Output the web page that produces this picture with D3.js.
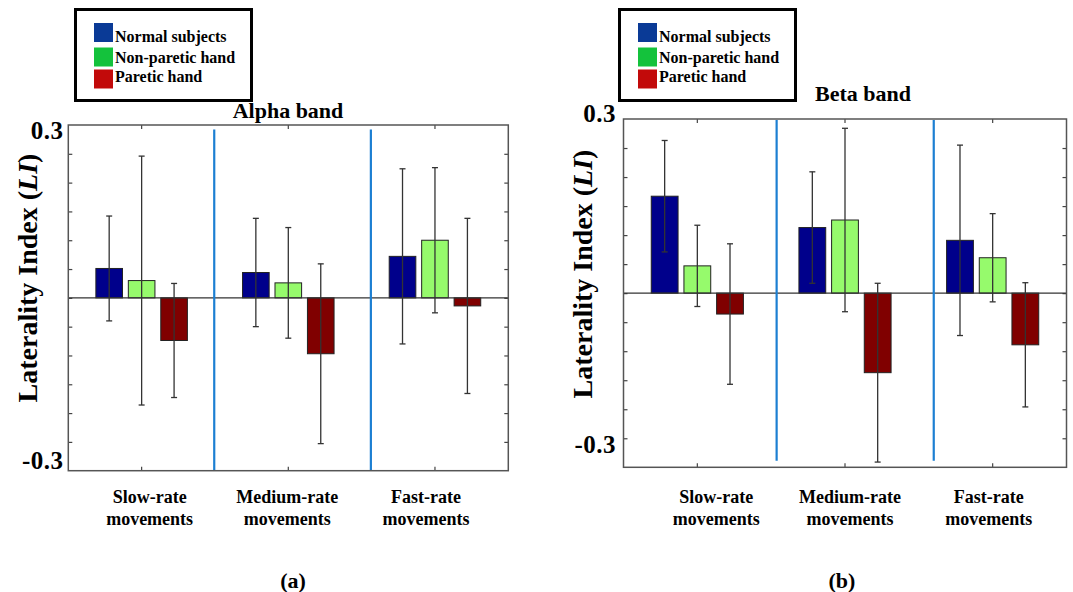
<!DOCTYPE html>
<html>
<head>
<meta charset="utf-8">
<script src="https://cdn.jsdelivr.net/npm/d3@7"></script>
<style>
  body { margin: 0; background: #fff; }
  svg text { font-family: "Liberation Serif", "Times New Roman", serif; font-weight: bold; fill: #000; }
</style>
</head>
<body>
<svg id="chart" width="1073" height="592"></svg>
<script>
// categories and series
const categoryLines = [["Slow-rate", "movements"], ["Medium-rate", "movements"], ["Fast-rate", "movements"]];
const seriesNames = ["Normal subjects", "Non-paretic hand", "Paretic hand"];

// alpha band: means and error bar half-lengths
const alphaNormal = [0.051, 0.044, 0.072];
const alphaNonParetic = [0.030, 0.026, 0.100];
const alphaParetic = [-0.074, -0.097, -0.014];
const alphaNormalErr = [0.091, 0.094, 0.152];
const alphaNonPareticErr = [0.216, 0.096, 0.126];
const alphaPareticErr = [0.099, 0.156, 0.152];

// beta band
const betaNormal = [0.167, 0.113, 0.091];
const betaNonParetic = [0.047, 0.126, 0.061];
const betaParetic = [-0.036, -0.137, -0.089];
const betaNormalErr = [0.096, 0.096, 0.164];
const betaNonPareticErr = [0.070, 0.158, 0.076];
const betaPareticErr = [0.121, 0.154, 0.107];

// axis ticks
const yTickValues = [-0.25, -0.2, -0.15, -0.1, -0.05, 0, 0.05, 0.1, 0.15, 0.2, 0.25];
const yTickLabels = ["0.3", "-0.3"];

const barColors = ["#00008b", "#96fa6c", "#800000"];
const legendColors = ["#0a3a96", "#14c23c", "#c20a0a"];

const svg = d3.select("#chart");

// Draws one panel (bars, error bars, box, labels, legend)
const render = (p) => {
  const y = d3.scaleLinear().domain([-0.3, 0.3]).range([p.y1, p.y0]);
  const x = d3.scaleBand().domain([0, 1, 2]).range([p.x0, p.x1]).padding(0);
  const xIdx = d3.scaleLinear().domain([-0.5, 2.5]).range([p.x0, p.x1]);
  const bw = x.bandwidth();
  const xs = d3.scaleBand().domain([0, 1, 2])
    .range([-0.312 * bw, 0.312 * bw]).paddingInner(0.18).paddingOuter(0);

  const g = svg.append("g");

  // inner ticks on all four sides
  const tickStyle = (sel) => {
    sel.select(".domain").remove();
    sel.selectAll(".tick line").attr("stroke", "#444").attr("stroke-width", 1.2);
    sel.selectAll(".tick text").remove();
  };
  g.append("g").attr("transform", `translate(${p.x0},0)`)
    .call(d3.axisLeft(y).tickValues(yTickValues).tickSize(-4)).call(tickStyle);
  g.append("g").attr("transform", `translate(${p.x1},0)`)
    .call(d3.axisRight(y).tickValues(yTickValues).tickSize(-4)).call(tickStyle);
  g.append("g").attr("transform", `translate(0,${p.y1})`)
    .call(d3.axisBottom(x).tickSize(-4)).call(tickStyle);
  g.append("g").attr("transform", `translate(0,${p.y0})`)
    .call(d3.axisTop(x).tickSize(-4)).call(tickStyle);

  // bars
  const rows = [];
  p.series.forEach((s, si) => {
    s.values.forEach((v, ci) => rows.push({ si, ci, v, e: s.errors[ci] }));
  });

  g.selectAll("rect.bar")
    .data(rows)
    .enter()
    .append("rect")
    .attr("class", "bar")
    .attr("x", (d) => x(d.ci) + bw / 2 + xs(d.si))
    .attr("width", xs.bandwidth())
    .attr("y", (d) => y(Math.max(0, d.v)))
    .attr("height", (d) => Math.abs(y(d.v) - y(0)))
    .attr("fill", (d) => barColors[d.si])
    .attr("stroke", "#222")
    .attr("stroke-width", 1);

  // zero line
  g.append("line")
    .attr("x1", p.x0).attr("x2", p.x1)
    .attr("y1", y(0)).attr("y2", y(0))
    .attr("stroke", "#333").attr("stroke-width", 1.3);

  // error bars
  const ex = (d) => x(d.ci) + bw / 2 + xs(d.si) + xs.bandwidth() / 2;
  const eg = g.selectAll("g.err").data(rows).enter().append("g")
    .attr("stroke", "#333").attr("stroke-width", 1.3);
  eg.append("line")
    .attr("x1", ex).attr("x2", ex)
    .attr("y1", (d) => y(d.v + d.e)).attr("y2", (d) => y(d.v - d.e));
  eg.append("line")
    .attr("x1", (d) => ex(d) - 3).attr("x2", (d) => ex(d) + 3)
    .attr("y1", (d) => y(d.v + d.e)).attr("y2", (d) => y(d.v + d.e));
  eg.append("line")
    .attr("x1", (d) => ex(d) - 3).attr("x2", (d) => ex(d) + 3)
    .attr("y1", (d) => y(d.v - d.e)).attr("y2", (d) => y(d.v - d.e));

  // blue separators
  g.selectAll("line.sep")
    .data(p.separators)
    .enter()
    .append("line")
    .attr("x1", (d) => xIdx(d)).attr("x2", (d) => xIdx(d))
    .attr("y1", p.sepTop).attr("y2", p.sepBottom)
    .attr("stroke", "#1c7fd2").attr("stroke-width", 2.2);

  // box
  g.append("rect")
    .attr("x", p.x0).attr("y", p.y0)
    .attr("width", p.x1 - p.x0).attr("height", p.y1 - p.y0)
    .attr("fill", "none").attr("stroke", "#555").attr("stroke-width", 1.5);

  // tick labels
  g.append("text").attr("x", p.tickLabelX).attr("y", p.topLabelY)
    .attr("text-anchor", "end").attr("dominant-baseline", "central")
    .attr("font-size", 25).attr("letter-spacing", 0.5).text(yTickLabels[0]);
  g.append("text").attr("x", p.tickLabelX).attr("y", p.bottomLabelY)
    .attr("text-anchor", "end").attr("dominant-baseline", "central")
    .attr("font-size", 25).attr("letter-spacing", 0.5).text(yTickLabels[1]);

  // y axis label
  const yl = g.append("text")
    .attr("transform", `translate(${p.yLabelX},${p.yLabelY}) rotate(-90)`)
    .attr("text-anchor", "middle").attr("dominant-baseline", "central")
    .attr("font-size", 28);
  yl.append("tspan").text("Laterality Index (");
  yl.append("tspan").attr("font-style", "italic").text("LI");
  yl.append("tspan").text(")");

  // category labels
  categoryLines.forEach((lines, ci) => {
    const t = g.append("text")
      .attr("text-anchor", "middle")
      .attr("font-size", 18);
    lines.forEach((line, li) => {
      t.append("tspan")
        .attr("x", x(ci) + bw / 2 + p.labelShift[ci])
        .attr("y", 503 + li * 22)
        .text(line);
    });
  });

  // title and panel tag
  g.append("text").attr("x", p.titleX).attr("y", p.titleY)
    .attr("text-anchor", "middle").attr("font-size", 22).text(p.title);
  g.append("text").attr("x", p.tagX).attr("y", 588)
    .attr("text-anchor", "middle").attr("font-size", 22).text(p.tag);

  // legend
  const lg = g.append("g").attr("transform", `translate(${p.legendX},8)`);
  lg.append("rect").attr("x", 1.5).attr("y", 1.5)
    .attr("width", 176).attr("height", 91)
    .attr("fill", "#fff").attr("stroke", "#000").attr("stroke-width", 3);
  const swY = [15, 39.5, 61.5];
  const txY = [33.5, 54.5, 74];
  seriesNames.forEach((name, i) => {
    lg.append("rect").attr("x", p.swatchDx).attr("y", swY[i])
      .attr("width", 19).attr("height", 19).attr("fill", legendColors[i]);
    lg.append("text").attr("x", p.swatchDx + 21).attr("y", txY[i])
      .attr("font-size", 16).text(name);
  });
};

render({
  x0: 68.3, x1: 508.3, y0: 125, y1: 470.7,
  series: [
    { values: alphaNormal, errors: alphaNormalErr },
    { values: alphaNonParetic, errors: alphaNonPareticErr },
    { values: alphaParetic, errors: alphaPareticErr }
  ],
  separators: [0.495, 1.563],
  sepTop: 129.5, sepBottom: 470.7,
  tickLabelX: 63.5, topLabelY: 130, bottomLabelY: 460,
  yLabelX: 27, yLabelY: 278,
  labelShift: [8, -1, -9],
  title: "Alpha band", titleX: 288, titleY: 118,
  tag: "(a)", tagX: 293,
  legendX: 74, swatchDx: 20
});

render({
  x0: 623.5, x1: 1066.5, y0: 119, y1: 467.3,
  series: [
    { values: betaNormal, errors: betaNormalErr },
    { values: betaNonParetic, errors: betaNonPareticErr },
    { values: betaParetic, errors: betaPareticErr }
  ],
  separators: [0.537, 1.601],
  sepTop: 120, sepBottom: 460.7,
  tickLabelX: 616, topLabelY: 113, bottomLabelY: 444,
  yLabelX: 582, yLabelY: 274,
  labelShift: [19, 5, -4],
  title: "Beta band", titleX: 863, titleY: 101,
  tag: "(b)", tagX: 842,
  legendX: 618, swatchDx: 20
});
</script>
</body>
</html>
